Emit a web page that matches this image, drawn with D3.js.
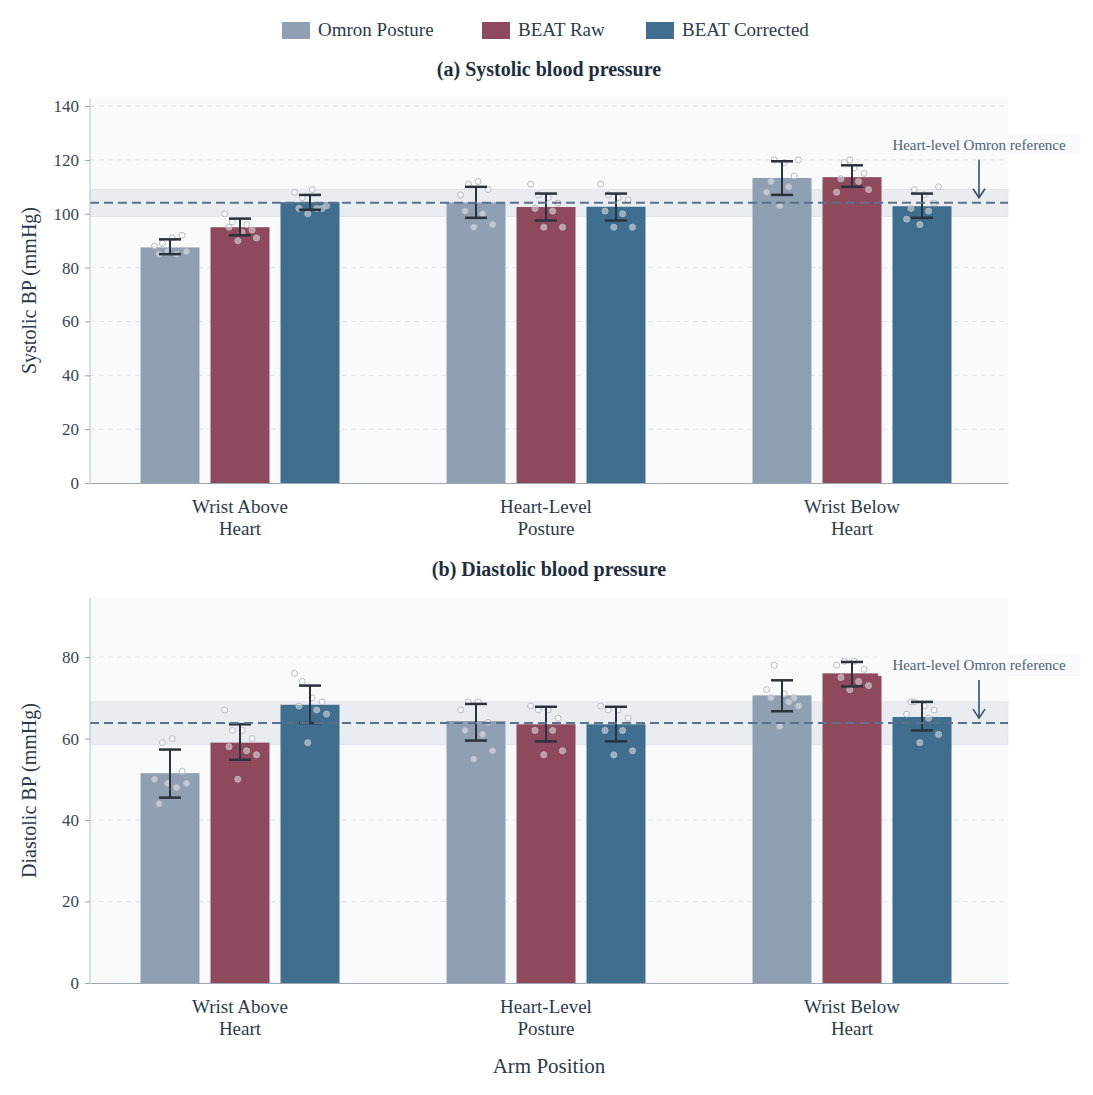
<!DOCTYPE html>
<html><head><meta charset="utf-8">
<script src="https://cdn.jsdelivr.net/npm/d3@7"></script>
<style>body{margin:0;background:#fff;font-family:"Liberation Serif","Times New Roman",serif;}</style>
</head><body><svg id="c" width="1093" height="1095"></svg>
<script>
var positions = [["Wrist Above", "Heart"], ["Heart-Level", "Posture"], ["Wrist Below", "Heart"]];
var series = ["Omron Posture", "BEAT Raw", "BEAT Corrected"];
var colors = ["#8fa0b3", "#8e4a5c", "#3f6e8f"];

var sysMean = [[87.5, 95, 104.3], [104.2, 102.5, 102.6], [113.3, 113.6, 102.8]];
var sysLo = [[85, 92, 101.5], [98.5, 97.5, 97.5], [107, 110, 98.5]];
var sysHi = [[90.5, 98.2, 107], [110, 107.5, 107.5], [119.5, 118, 107.5]];
var sysPts = [
  [[88, 89, 91, 92, 85, 85, 86, 86], [100, 97, 93, 94, 95, 96, 91, 90], [108, 106, 109, 102, 102, 102, 103, 100]],
  [[107, 111, 112, 109, 101, 100, 96, 95], [111, 107, 106, 104, 102, 101, 95, 95], [111, 107, 106, 105, 101, 100, 95, 95]],
  [[108, 120, 119, 114, 112, 110, 120, 103], [108, 119, 117, 115, 113, 112, 109, 120], [98, 109, 107, 104, 102, 101, 110, 96]]
];
var sysRef = 104.1, sysBand = [99, 109];

var diaMean = [[51.5, 59, 68.3], [64.3, 63.5, 63.5], [70.6, 76, 65.3]];
var diaLo = [[45.5, 54.8, 63.8], [59.5, 59.3, 59.3], [66.7, 72.8, 62]];
var diaHi = [[57.3, 63.5, 73], [68.5, 67.8, 67.8], [74.3, 78.8, 69]];
var diaPts = [
  [[50, 59, 60, 52, 44, 48, 49, 49], [67, 62, 62, 60, 58, 57, 56, 50], [76, 74, 70, 69, 68, 67, 66, 59]],
  [[67, 69, 69, 64, 62, 61, 57, 55], [68, 67, 67, 65, 62, 62, 57, 56], [68, 67, 67, 65, 62, 62, 57, 56]],
  [[72, 78, 71, 70, 70, 69, 68, 63], [78, 79, 79, 77, 75, 74, 73, 72], [66, 69, 68, 67, 69, 65, 61, 59]]
];
var diaRef = 63.8, diaBand = [58.5, 69];
var jitter = [-0.7, -0.35, 0.1, 0.55, -0.5, 0.3, 0.75, -0.1];

var svg = d3.select("#c");
var left = 90, right = 1008, ink = "#2b3a4a";

// legend
var lg = svg.append("g");
var lx = [282, 482, 646];
series.forEach(function (s, i) {
  lg.append("rect").attr("x", lx[i]).attr("y", 22).attr("width", 28).attr("height", 17).attr("fill", colors[i]);
  lg.append("text").attr("x", lx[i] + 36).attr("y", 36).attr("font-size", 19).attr("fill", ink).text(s);
});

var x0 = d3.scaleBand().domain([0, 1, 2]).range([left, right]).paddingInner(0).paddingOuter(0);
function panel(top, bottom, ymax, ticks, mean, lo, hi, pts, ref, band, title, ylabel) {
  var y = d3.scaleLinear().domain([0, ymax]).range([bottom, top]);
  var g = svg.append("g");
  g.append("rect").attr("x", left).attr("y", top).attr("width", right - left).attr("height", bottom - top).attr("fill", "#f8fafc");
  ticks.forEach(function (t) {
    if (t > 0) g.append("line").attr("x1", left).attr("x2", right).attr("y1", y(t)).attr("y2", y(t))
      .attr("stroke", "#e2e8ef").attr("stroke-dasharray", "5,4");
  });
  g.append("rect").attr("x", left).attr("width", right - left).attr("y", y(band[1])).attr("height", y(band[0]) - y(band[1]))
    .attr("fill", "#e6ebf0").attr("opacity", 0.8).attr("stroke", "#dde3ea");
  var bw = 59, step = 70;
  mean.forEach(function (grp, gi) {
    var cx = x0(gi) + x0.bandwidth() / 2 - 3;
    grp.forEach(function (v, si) {
      var bx = cx + (si - 1) * step;
      g.append("rect").attr("x", bx - bw / 2).attr("width", bw).attr("y", y(v)).attr("height", y(0) - y(v)).attr("fill", colors[si]);
      pts[gi][si].forEach(function (p, k) {
        g.append("circle").attr("cx", bx + jitter[k] * 22).attr("cy", y(p)).attr("r", 3)
          .attr("fill", "rgba(255,255,255,0.45)").attr("stroke", "#b7bcc4").attr("stroke-width", 1);
      });
      g.append("line").attr("x1", bx).attr("x2", bx).attr("y1", y(lo[gi][si])).attr("y2", y(hi[gi][si])).attr("stroke", "#2a323c").attr("stroke-width", 2);
      [lo[gi][si], hi[gi][si]].forEach(function (e) {
        g.append("line").attr("x1", bx - 11).attr("x2", bx + 11).attr("y1", y(e)).attr("y2", y(e)).attr("stroke", "#2a323c").attr("stroke-width", 2.5);
      });
    });
  });
  g.append("line").attr("x1", left).attr("x2", right).attr("y1", y(ref)).attr("y2", y(ref))
    .attr("stroke", "#5a7089").attr("stroke-width", 2).attr("stroke-dasharray", "9,5");
  var ay = y(ref) - 55;
  g.append("rect").attr("x", 878).attr("y", ay - 14).attr("width", 202).attr("height", 22).attr("fill", "#f8fafc").attr("opacity", 0.9);
  g.append("text").attr("x", 979).attr("y", ay + 2).attr("text-anchor", "middle").attr("font-size", 15).attr("fill", "#4a6079").text("Heart-level Omron reference");
  g.append("line").attr("x1", 979).attr("x2", 979).attr("y1", ay + 12).attr("y2", y(ref) - 6).attr("stroke", "#3a5068").attr("stroke-width", 1.6);
  g.append("path").attr("d", "M973," + (y(ref) - 14) + " L979," + (y(ref) - 5) + " L985," + (y(ref) - 14)).attr("fill", "none").attr("stroke", "#3a5068").attr("stroke-width", 1.6);

  var ya = g.append("g").attr("transform", "translate(" + left + ",0)").call(d3.axisLeft(y).tickValues(ticks).tickSize(5).tickPadding(6));
  ya.selectAll("text").attr("font-size", 17).attr("fill", "#3a4654").attr("font-family", "Liberation Serif");
  ya.selectAll("line").attr("stroke", "#9aa6b4");
  ya.select(".domain").attr("stroke", "#b9c4d0").attr("d", "M0," + top + "V" + bottom);
  var xa = g.append("g").attr("transform", "translate(0," + bottom + ")").call(d3.axisBottom(x0).tickSize(0).tickFormat(""));
  xa.select(".domain").attr("stroke", "#9aa6b4");
  positions.forEach(function (p, i) {
    var t = g.append("text").attr("x", x0(i) + x0.bandwidth() / 2 - 3).attr("y", bottom + 30).attr("text-anchor", "middle").attr("font-size", 19).attr("fill", ink);
    t.append("tspan").attr("x", x0(i) + x0.bandwidth() / 2 - 3).text(p[0]);
    t.append("tspan").attr("x", x0(i) + x0.bandwidth() / 2 - 3).attr("dy", 22).text(p[1]);
  });
  svg.append("text").attr("x", 549).attr("y", top - 22).attr("text-anchor", "middle").attr("font-size", 20).attr("font-weight", "bold").attr("fill", "#1e2d3d").text(title);
  svg.append("text").attr("transform", "translate(36," + ((top + bottom) / 2) + ") rotate(-90)").attr("text-anchor", "middle").attr("font-size", 20).attr("fill", ink).text(ylabel);
}
panel(98, 483, 143, [0, 20, 40, 60, 80, 100, 120, 140], sysMean, sysLo, sysHi, sysPts, sysRef, sysBand, "(a) Systolic blood pressure", "Systolic BP (mmHg)");
panel(598, 983, 94.5, [0, 20, 40, 60, 80], diaMean, diaLo, diaHi, diaPts, diaRef, diaBand, "(b) Diastolic blood pressure", "Diastolic BP (mmHg)");
svg.append("text").attr("x", 549).attr("y", 1073).attr("text-anchor", "middle").attr("font-size", 21).attr("fill", ink).text("Arm Position");
</script></body></html>
